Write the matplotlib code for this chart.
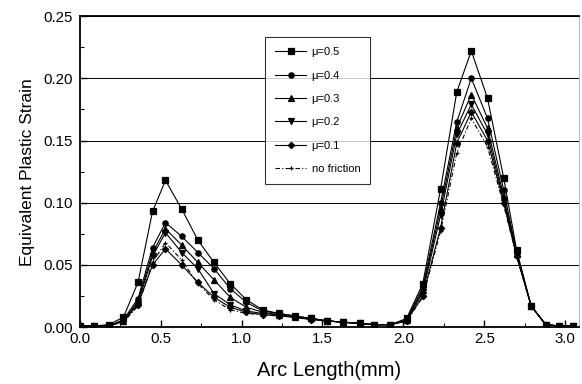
import matplotlib
matplotlib.use("Agg")
import matplotlib.pyplot as plt
from matplotlib.ticker import MultipleLocator, FormatStrFormatter

plt.rcParams['font.family'] = ['Liberation Sans', 'DejaVu Sans']

arc = [0.00, 0.09, 0.18, 0.27, 0.36, 0.45, 0.53, 0.63, 0.73, 0.83, 0.93,
       1.03, 1.13, 1.23, 1.33, 1.43, 1.53, 1.63, 1.73, 1.82, 1.92, 2.02,
       2.12, 2.23, 2.33, 2.42, 2.52, 2.62, 2.70, 2.79, 2.88, 2.96, 3.05]

mu05 = [.001, .001, .002, .008, .036, .093, .118, .095, .070, .052, .035,
        .022, .014, .011, .009, .007, .005, .004, .003, .002, .002, .007,
        .035, .111, .189, .222, .184, .120, .062, .017, .002, .001, .001]
mu04 = [.001, .001, .001, .006, .023, .064, .084, .073, .060, .047, .031,
        .020, .013, .011, .009, .007, .005, .004, .003, .002, .002, .006,
        .032, .100, .165, .200, .168, .110, .060, .017, .002, .001, .001]
mu03 = [.001, .001, .001, .005, .021, .060, .079, .066, .052, .038, .024,
        .016, .012, .010, .008, .007, .005, .004, .003, .002, .002, .006,
        .030, .095, .160, .187, .160, .105, .059, .017, .002, .001, .001]
mu02 = [.001, .001, .001, .005, .019, .057, .076, .060, .047, .027, .018,
        .013, .011, .010, .008, .007, .005, .004, .003, .002, .002, .005,
        .028, .090, .155, .179, .155, .102, .058, .017, .002, .001, .001]
mu01 = [.001, .001, .001, .005, .018, .050, .063, .050, .036, .024, .016,
        .012, .010, .009, .008, .006, .005, .004, .003, .002, .002, .005,
        .025, .080, .148, .173, .150, .100, .057, .017, .002, .001, .001]
nofric = [.001, .001, .001, .004, .017, .052, .068, .054, .035, .022, .014,
          .011, .010, .009, .008, .006, .005, .004, .003, .002, .002, .005,
          .024, .077, .140, .168, .145, .098, .057, .017, .002, .001, .001]

series = [
    (mu05, 's', '-', 'μ=0.5'),
    (mu04, 'o', '-', 'μ=0.4'),
    (mu03, '^', '-', 'μ=0.3'),
    (mu02, 'v', '-', 'μ=0.2'),
    (mu01, 'D', '-', 'μ=0.1'),
    (nofric, '+', (0, (4, 2, 1, 2)), 'no friction'),
]

fig = plt.figure(figsize=(5.82, 3.84), dpi=100)
ax = fig.add_axes([0.137, 0.148, 0.858, 0.810])

for vals, mk, ls, lab in series:
    ms = 3.8 if mk not in ('D', '+') else 3.2
    ax.plot(arc, vals, marker=mk, linestyle=ls, color='black', lw=0.8,
            markersize=ms, mew=0.9, label=lab)

ax.set_xlim(0, 3.086)
ax.set_ylim(0, 0.25)
ax.xaxis.set_major_locator(MultipleLocator(0.5))
ax.xaxis.set_minor_locator(MultipleLocator(0.25))
ax.yaxis.set_major_locator(MultipleLocator(0.05))
ax.yaxis.set_minor_locator(MultipleLocator(0.025))
ax.xaxis.set_major_formatter(FormatStrFormatter('%.1f'))
ax.yaxis.set_major_formatter(FormatStrFormatter('%.2f'))
ax.tick_params(which='both', direction='in', top=False, right=False, labelsize=10.8)
ax.tick_params(which='major', length=5, width=1)
ax.tick_params(which='minor', length=3, width=0.8)
ax.tick_params(axis='y', pad=5)
ax.grid(axis='y', which='major', color='black', lw=0.7)
ax.set_axisbelow(True)
for side in ('left', 'bottom', 'top'):
    ax.spines[side].set_linewidth(1.3)
ax.spines['right'].set_linewidth(0.4)
ax.spines['right'].set_color('#888888')

ax.set_xlabel('Arc Length(mm)', fontsize=14.5, labelpad=11)
ax.set_ylabel('Equivalent Plastic Strain', fontsize=12.5, labelpad=6)

leg = ax.legend(loc='upper left', bbox_to_anchor=(0.371, 0.932), frameon=True,
                fancybox=False, edgecolor='black', fontsize=8, numpoints=1,
                handlelength=2.8, labelspacing=1.2, borderpad=0.9,
                handletextpad=0.5, borderaxespad=0)
leg.get_frame().set_linewidth(0.8)

fig.savefig('out.png', dpi=100)
